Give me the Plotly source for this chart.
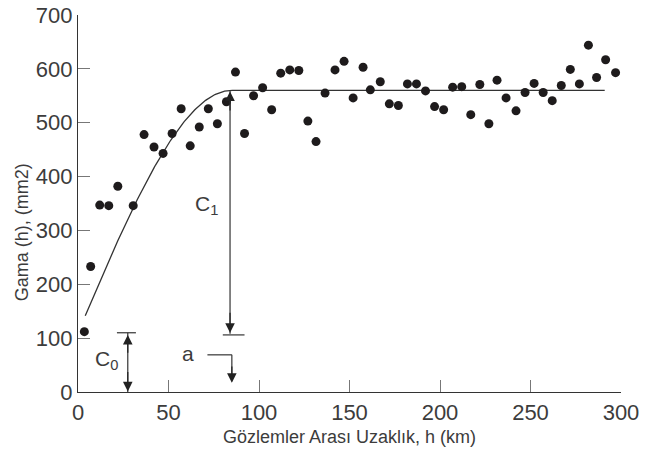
import numpy as np
import plotly.graph_objects as go

# Observed semivariogram points
lag_km = [3.5, 7, 12, 17, 22, 30.5, 36.5, 42, 47, 52, 57, 62, 67, 72, 77, 82, 87, 92, 97,
          102, 107, 112, 117, 122, 127, 131.5, 136.5, 142, 147, 152, 157.5, 161.5, 167, 172,
          177, 182, 187, 192, 197, 202, 207, 212, 217, 222, 227, 231.5, 236.5, 242, 247, 252,
          257, 262, 267, 272, 277, 282, 286.5, 291.5, 297]
gamma = [112, 233, 347, 346, 382, 346, 478, 455, 443, 480, 526, 457, 492, 526, 498, 539, 594,
         480, 550, 565, 524, 592, 598, 597, 503, 465, 555, 598, 614, 546, 603, 561, 576, 535,
         532, 572, 572, 559, 530, 524, 566, 567, 515, 571, 498, 579, 546, 522, 556, 573, 556,
         541, 569, 599, 572, 644, 584, 617, 593]

# Spherical model parameters
c0 = 110      # nugget
c1 = 450      # partial sill
a = 85        # range
h_start, h_end = 4, 291

x_ticks = [0, 50, 100, 150, 200, 250, 300]
y_ticks = [0, 100, 200, 300, 400, 500, 600, 700]

h = np.linspace(h_start, h_end, 400)
r = np.minimum(h / a, 1.0)
model = c0 + c1 * (1.5 * r - 0.5 * r ** 3)

TXT = "#3c3c3c"
FONT = "Liberation Sans"

fig = go.Figure()
fig.add_trace(go.Scatter(x=h, y=model, mode="lines",
                         line=dict(color="#333333", width=1.3), hoverinfo="skip"))
fig.add_trace(go.Scatter(x=lag_km, y=gamma, mode="markers",
                         marker=dict(color="#1e1b1c", size=9)))

sill = c0 + c1
shapes = [
    # C1 vertical line and bottom bar
    dict(type="line", x0=a - 1, x1=a - 1, y0=c0 - 2, y1=sill, line=dict(color="#333", width=1.2)),
    dict(type="line", x0=a - 5, x1=a + 7, y0=c0 - 4, y1=c0 - 4, line=dict(color="#333", width=1.2)),
    # C0 vertical line and top bar
    dict(type="line", x0=27.5, x1=27.5, y0=0, y1=c0, line=dict(color="#333", width=1.2)),
    dict(type="line", x0=21.5, x1=32, y0=c0, y1=c0, line=dict(color="#333", width=1.2)),
    # a pointer
    dict(type="line", x0=71.5, x1=a, y0=69, y1=69, line=dict(color="#333", width=1.2)),
    dict(type="line", x0=a, x1=a, y0=69, y1=20, line=dict(color="#333", width=1.2)),
]

ann = []
def arrow(x, y, ax, ay):
    ann.append(dict(x=x, y=y, ax=ax, ay=ay, xref="x", yref="y", axref="x", ayref="y",
                    text="", showarrow=True, arrowhead=2, arrowsize=1.6, arrowwidth=1.2,
                    arrowcolor="#222"))

arrow(a - 1, sill - 2, a - 1, sill - 40)      # C1 top
arrow(a - 1, c0, a - 1, c0 + 40)             # C1 bottom
arrow(27.5, c0 - 4, 27.5, c0 - 40)           # C0 top
arrow(27.5, 1, 27.5, 40)                     # C0 bottom
arrow(a, 17, a, 50)                          # a pointer

ann += [
    dict(x=71, y=347, xref="x", yref="y", text="C<sub>1</sub>", showarrow=False,
         font=dict(family=FONT, size=21, color=TXT)),
    dict(x=15.5, y=60, xref="x", yref="y", text="C<sub>0</sub>", showarrow=False,
         font=dict(family=FONT, size=21, color=TXT)),
    dict(x=61, y=72, xref="x", yref="y", text="a", showarrow=False,
         font=dict(family=FONT, size=21, color=TXT)),
    dict(x=0.5, y=-0.119, xref="paper", yref="paper", yanchor="middle",
         text="Gözlemler Arası Uzaklık, h (km)", showarrow=False,
         font=dict(family=FONT, size=18, color=TXT)),
    dict(x=-0.103, y=0.424, xref="paper", yref="paper", xanchor="center", yanchor="middle",
         textangle=-90, text="Gama (h), (mm2)", showarrow=False,
         font=dict(family=FONT, size=18, color=TXT)),
]

# page body has an 8px margin, so the figure is offset accordingly
fig.update_layout(
    width=639, height=448,
    margin=dict(l=70, r=26, t=7, b=64),
    paper_bgcolor="white", plot_bgcolor="white",
    showlegend=False,
    shapes=shapes, annotations=ann,
    font=dict(family=FONT, color=TXT),
    xaxis=dict(range=[0, 300], tickvals=x_ticks, ticks="inside", ticklen=12, tickcolor="#777",
               showline=True, linecolor="#333", linewidth=1.2, showgrid=False, zeroline=False,
               tickfont=dict(size=22, color=TXT), automargin=False, ticklabelstandoff=0,
               ticklabeloverflow="allow"),
    yaxis=dict(range=[0, 700], tickvals=y_ticks, ticks="inside", ticklen=12, tickcolor="#777",
               showline=True, linecolor="#333", linewidth=1.2, showgrid=False, zeroline=False,
               tickfont=dict(size=22, color=TXT), automargin=False, ticklabelstandoff=0,
               ticklabeloverflow="allow"),
)

fig.write_html("out.html")
